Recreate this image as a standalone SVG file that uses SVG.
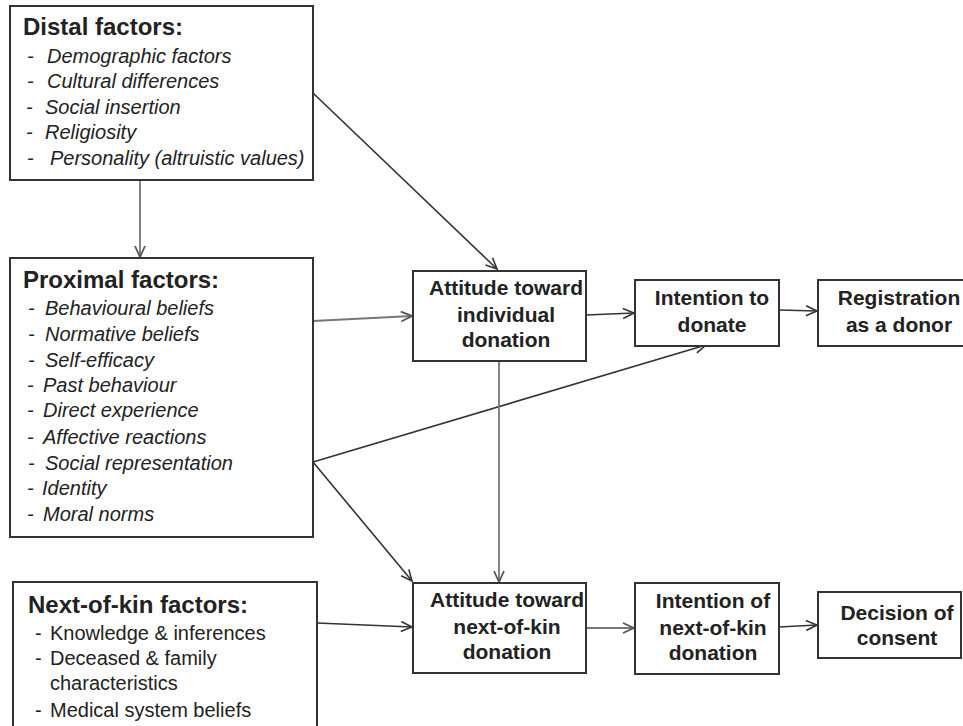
<svg xmlns="http://www.w3.org/2000/svg" width="963" height="726" viewBox="0 0 963 726">
<style>
.box{fill:#fff;stroke:#333;stroke-width:2}
.t{font-family:"Liberation Sans",Arial,sans-serif;font-weight:bold;font-size:24px;fill:#222}
.it{font-family:"Liberation Sans",Arial,sans-serif;font-style:italic;font-size:20px;fill:#222}
.rg{font-family:"Liberation Sans",Arial,sans-serif;font-size:20px;fill:#222}
.c{font-family:"Liberation Sans",Arial,sans-serif;font-weight:bold;font-size:21px;fill:#222;text-anchor:middle}
.ln{fill:none;stroke:#333;stroke-width:1.6;marker-end:url(#ah)}
.lg{fill:none;stroke:#777;stroke-width:1.8;marker-end:url(#ahg)}
</style>
<defs>
<marker id="ah" markerUnits="userSpaceOnUse" markerWidth="14" markerHeight="14" refX="12" refY="6" orient="auto">
<path d="M1,1 L12,6 L1,11" fill="none" stroke="#333" stroke-width="1.6"/>
</marker>
<marker id="ahg" markerUnits="userSpaceOnUse" markerWidth="14" markerHeight="14" refX="12" refY="6" orient="auto">
<path d="M1,1 L12,6 L1,11" fill="none" stroke="#555" stroke-width="1.8"/>
</marker>
</defs>
<rect width="963" height="726" fill="#fff"/>
<g id="connectors">
<line class="lg" x1="140" y1="181" x2="140" y2="257"/>
<line class="ln" x1="313" y1="93" x2="497" y2="269"/>
<line class="lg" x1="313" y1="321" x2="412" y2="316"/>
<line class="ln" x1="586" y1="315" x2="634" y2="313"/>
<line class="ln" x1="779" y1="310" x2="817" y2="311"/>
<line class="ln" x1="313" y1="462" x2="706" y2="345"/>
<line class="ln" x1="313" y1="462" x2="412" y2="581"/>
<line class="lg" x1="499" y1="362" x2="499" y2="582"/>
<line class="ln" x1="317" y1="623" x2="412" y2="627"/>
<line class="lg" x1="586" y1="628" x2="634" y2="628"/>
<line class="ln" x1="779" y1="627" x2="817" y2="625"/>
</g>
<g id="distal">
<rect class="box" x="10" y="6" width="303" height="174"/>
<text class="t" x="23" y="35">Distal factors:</text>
<text class="it" x="27" y="63">-</text><text class="it" x="47" y="63">Demographic factors</text>
<text class="it" x="27" y="88">-</text><text class="it" x="47" y="88">Cultural differences</text>
<text class="it" x="26" y="114">-</text><text class="it" x="45" y="114">Social insertion</text>
<text class="it" x="26" y="139">-</text><text class="it" x="45" y="139">Religiosity</text>
<text class="it" x="27" y="165">-</text><text class="it" x="50" y="165">Personality (altruistic values)</text>
</g>
<g id="proximal">
<rect class="box" x="10" y="258" width="303" height="279"/>
<text class="t" x="23" y="288">Proximal factors:</text>
<text class="it" x="28" y="315">-</text><text class="it" x="45" y="315">Behavioural beliefs</text>
<text class="it" x="28" y="341">-</text><text class="it" x="45" y="341">Normative beliefs</text>
<text class="it" x="28" y="367">-</text><text class="it" x="45" y="367">Self-efficacy</text>
<text class="it" x="27" y="392">-</text><text class="it" x="43" y="392">Past behaviour</text>
<text class="it" x="27" y="417">-</text><text class="it" x="43" y="417">Direct experience</text>
<text class="it" x="27" y="444">-</text><text class="it" x="43" y="444">Affective reactions</text>
<text class="it" x="28" y="470">-</text><text class="it" x="45" y="470">Social representation</text>
<text class="it" x="27" y="495">-</text><text class="it" x="42" y="495">Identity</text>
<text class="it" x="27" y="521">-</text><text class="it" x="43" y="521">Moral norms</text>
</g>
<g id="nextofkin">
<rect class="box" x="13" y="582" width="304" height="160"/>
<text class="t" x="28" y="613">Next-of-kin factors:</text>
<text class="rg" x="35" y="640">-</text><text class="rg" x="50" y="640">Knowledge &amp; inferences</text>
<text class="rg" x="35" y="665">-</text><text class="rg" x="50" y="665">Deceased &amp; family</text>
<text class="rg" x="50" y="690">characteristics</text>
<text class="rg" x="35" y="717">-</text><text class="rg" x="50" y="717">Medical system beliefs</text>
</g>
<g id="att-ind">
<rect class="box" x="413" y="271" width="173" height="90"/>
<text class="c" x="506" y="295">Attitude toward</text>
<text class="c" x="506" y="322">individual</text>
<text class="c" x="506" y="347">donation</text>
</g>
<g id="int-donate">
<rect class="box" x="635" y="280" width="144" height="66"/>
<text class="c" x="712" y="305">Intention to</text>
<text class="c" x="712" y="332">donate</text>
</g>
<g id="registration">
<rect class="box" x="818" y="280" width="160" height="66"/>
<text class="c" x="899" y="305">Registration</text>
<text class="c" x="899" y="332">as a donor</text>
</g>
<g id="att-nok">
<rect class="box" x="413" y="583" width="173" height="90"/>
<text class="c" x="507" y="607">Attitude toward</text>
<text class="c" x="507" y="634">next-of-kin</text>
<text class="c" x="507" y="659">donation</text>
</g>
<g id="int-nok">
<rect class="box" x="635" y="583" width="144" height="91"/>
<text class="c" x="713" y="608">Intention of</text>
<text class="c" x="713" y="635">next-of-kin</text>
<text class="c" x="713" y="660">donation</text>
</g>
<g id="decision">
<rect class="box" x="818" y="592" width="143" height="66"/>
<text class="c" x="897" y="620">Decision of</text>
<text class="c" x="897" y="645">consent</text>
</g>
</svg>
